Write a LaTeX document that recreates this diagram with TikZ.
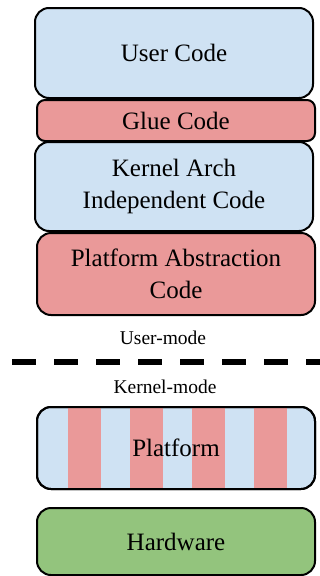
\documentclass[tikz,border=0pt]{standalone}
\usepackage{fontspec}
\setmainfont{Liberation Serif}
\definecolor{layerblue}{HTML}{CFE2F3}
\definecolor{layerred}{HTML}{EA9999}
\definecolor{layergreen}{HTML}{93C47D}
\tikzset{
  layer/.style={draw=black, line width=2pt, rounded corners=14pt, outer sep=0pt,
    inner sep=0pt, align=center, minimum width=278pt,
    font=\fontsize{25}{32}\selectfont},
  modelabel/.style={font=\fontsize{19.5}{24}\selectfont, inner sep=0pt},
}
\begin{document}
\begin{tikzpicture}[x=1pt, y=-1pt]
  \useasboundingbox (0,0) rectangle (320,576);

  % user-mode stack
  \node[layer, fill=layerblue, minimum height=90pt] (user) at (174,53) {User Code};
  \node[layer, fill=layerred, minimum height=41pt, rounded corners=8pt] (glue) at (176,120.5) {Glue Code};
  \node[layer, fill=layerblue, minimum height=89pt] (kernel) at (174,186.5) {Kernel Arch\\Independent Code};
  \node[layer, fill=layerred, minimum height=82pt] (pac) at (176,274) {Platform Abstraction\\Code};

  % privilege boundary
  \node[modelabel] (umode) at (163,338) {User-mode};
  \coordinate (bl) at (12.3,362);
  \coordinate (br) at (320,362);
  \draw[line width=6pt, dash pattern=on 24pt off 18pt] (bl) -- (br);
  \node[modelabel] (kmode) at (165,387) {Kernel-mode};

  % platform: striped mix of both layers
  \node[layer, fill=layerblue, minimum height=82pt] (plat) at (176,448) {};
  \begin{scope}
    \clip[rounded corners=14pt] (plat.south west) rectangle (plat.north east);
    \foreach \sx in {68,130,192,254}
      \fill[layerred] (\sx,407) rectangle (\sx+32.5,489);
  \end{scope}
  \draw[line width=2pt, rounded corners=14pt] (plat.south west) rectangle (plat.north east);
  \node[font=\fontsize{25}{32}\selectfont, inner sep=0pt] (platlabel) at (plat.center) {Platform};

  % hardware
  \node[layer, fill=layergreen, minimum height=67pt] (hw) at (176,541.5) {Hardware};
\end{tikzpicture}
\end{document}
